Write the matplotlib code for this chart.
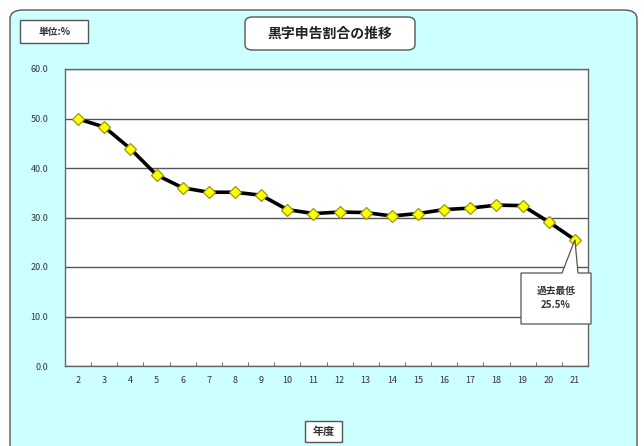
import matplotlib
matplotlib.use("Agg")
import matplotlib.pyplot as plt
from matplotlib.patches import FancyBboxPatch, Rectangle, Polygon

plt.rcParams['font.family'] = ['Noto Sans CJK JP', 'DejaVu Sans']

years = ["2", "3", "4", "5", "6", "7", "8", "9", "10", "11", "12", "13", "14", "15", "16", "17", "18", "19", "20", "21"]
ratios = [49.9, 48.3, 43.9, 38.6, 36.0, 35.1, 35.1, 34.5, 31.6, 30.8, 31.1, 31.0, 30.3, 30.8, 31.6, 31.9, 32.5, 32.4, 29.1, 25.5]
yticks = [0, 10, 20, 30, 40, 50, 60]
title = "黒字申告割合の推移"
unit_label = "単位:%"
xlabel = "年度"
callout = "過去最低\n25.5%"

W, H = 644, 446
fig = plt.figure(figsize=(W / 100, H / 100), dpi=100)
fig.patch.set_facecolor("white")

def fx(x):
    return x / W

def fy(y):
    return 1 - y / H

# background rounded panel
bg = FancyBboxPatch((fx(10), fy(470)), fx(627), (470 - 10) / H,
                    boxstyle="round,pad=0,rounding_size=0.02",
                    transform=fig.transFigure, facecolor="#CCFFFF",
                    edgecolor="#555555", linewidth=1.0, zorder=0)
fig.patches.append(bg)

L, R, T, B = 65, 588, 69, 366
ax = fig.add_axes([fx(L), fy(B), (R - L) / W, (B - T) / H])
ax.set_zorder(2)
ax.set_facecolor("white")
x = list(range(len(years)))
ax.plot(x, ratios, color="black", linewidth=2.6, zorder=3,
        marker="D", markersize=6.5, markerfacecolor="#FFFF00",
        markeredgecolor="#999900", markeredgewidth=0.9, clip_on=False)
ax.set_xlim(-0.5, len(years) - 0.5)
ax.set_ylim(0, 60)
ax.set_yticks(yticks)
ax.set_yticklabels([f"{v:.1f}" for v in yticks], fontsize=6.5, color="#333333")
ax.set_xticks(x)
ax.set_xticklabels(years, fontsize=6.5, color="#333333")
ax.set_xticks([i + 0.5 for i in x[:-1]], minor=True)
ax.tick_params(axis="x", which="major", length=0, pad=7)
ax.tick_params(axis="x", which="minor", direction="in", length=3, color="#555555")
ax.tick_params(axis="y", length=0, pad=12)
ax.grid(axis="y", color="#555555", linewidth=1.0)
ax.set_axisbelow(True)
for s in ax.spines.values():
    s.set_color("#666666")
    s.set_linewidth(1.0)

# callout with pointer
fig.canvas.draw()
tip = ax.transData.transform((x[-1], ratios[-1]))
tipf = fig.transFigure.inverted().transform(tip)
verts = [(fx(521), fy(273)), (fx(562), fy(273)), (tipf[0], tipf[1]), (fx(578), fy(273)),
         (fx(591), fy(273)), (fx(591), fy(324)), (fx(521), fy(324))]
poly = Polygon(verts, closed=True, transform=fig.transFigure, facecolor="white",
               edgecolor="#555555", linewidth=0.9, zorder=10)
fig.patches.append(poly)
fig.text(fx(556), fy(298), callout, ha="center", va="center", fontsize=7,
         fontweight="bold", color="#333333", linespacing=1.5, zorder=11)

# title box
tb = FancyBboxPatch((fx(245), fy(50)), (415 - 245) / W, (50 - 17) / H,
                    boxstyle="round,pad=0,rounding_size=0.012",
                    transform=fig.transFigure, facecolor="white",
                    edgecolor="#555555", linewidth=1.0, zorder=5)
fig.patches.append(tb)
fig.text(fx(330), fy(33.5), title, ha="center", va="center", fontsize=10,
         fontweight="bold", color="#222222", zorder=6)

# unit box
ub = Rectangle((fx(20), fy(43)), (88 - 20) / W, (43 - 20) / H, transform=fig.transFigure,
               facecolor="white", edgecolor="#555555", linewidth=1.0, zorder=5)
fig.patches.append(ub)
fig.text(fx(54), fy(31.5), unit_label, ha="center", va="center", fontsize=7,
         fontweight="bold", color="#333333", zorder=6)

# x label box
xb = Rectangle((fx(305), fy(442)), (342 - 305) / W, (442 - 421) / H, transform=fig.transFigure,
               facecolor="white", edgecolor="#555555", linewidth=1.0, zorder=5)
fig.patches.append(xb)
fig.text(fx(323.5), fy(431.5), xlabel, ha="center", va="center", fontsize=8,
         fontweight="bold", color="#333333", zorder=6)

fig.savefig("out.png", dpi=100, facecolor="white")
